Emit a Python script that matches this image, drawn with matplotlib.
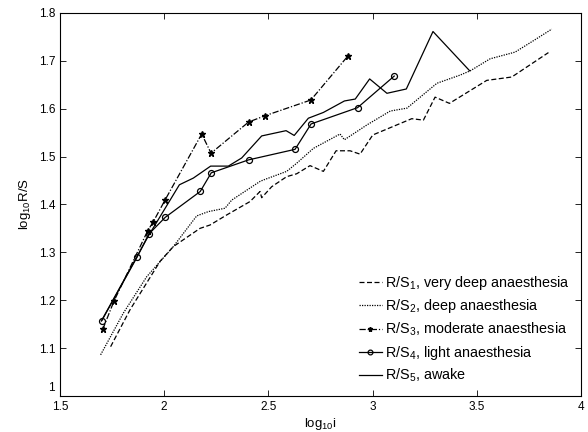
import matplotlib
matplotlib.use("Agg")
import matplotlib.pyplot as plt
import matplotlib.transforms as mtransforms

plt.rcParams['font.family'] = ['Liberation Sans', 'DejaVu Sans']
plt.rcParams['mathtext.default'] = 'regular'

# Series 1: very deep anaesthesia (dashed)
x1 = [1.743, 1.836, 1.980, 2.044, 2.172, 2.220, 2.300, 2.412, 2.460, 2.468, 2.516, 2.588,
      2.636, 2.700, 2.764, 2.825, 2.892, 2.940, 3.001, 3.188, 3.244, 3.300, 3.369, 3.548,
      3.668, 3.844]
y1 = [1.103, 1.180, 1.281, 1.312, 1.350, 1.357, 1.378, 1.406, 1.427, 1.414, 1.437, 1.458,
      1.464, 1.481, 1.469, 1.512, 1.512, 1.505, 1.545, 1.579, 1.576, 1.624, 1.611, 1.659,
      1.666, 1.717]

# Series 2: deep anaesthesia (dotted)
x2 = [1.695, 1.804, 1.916, 2.044, 2.156, 2.212, 2.292, 2.324, 2.460, 2.476, 2.588, 2.636,
      2.716, 2.844, 2.865, 2.973, 3.085, 3.165, 3.309, 3.420, 3.469, 3.564, 3.684, 3.780,
      3.860]
y2 = [1.086, 1.173, 1.249, 1.312, 1.376, 1.385, 1.392, 1.409, 1.448, 1.451, 1.469, 1.486,
      1.517, 1.547, 1.535, 1.566, 1.595, 1.601, 1.653, 1.670, 1.679, 1.704, 1.718, 1.744,
      1.766]

# Series 3: moderate anaesthesia (dash-dot, stars)
x3 = [1.705, 1.759, 1.921, 1.948, 2.004, 2.180, 2.225, 2.405, 2.483, 2.704, 2.880]
y3 = [1.139, 1.198, 1.345, 1.364, 1.409, 1.547, 1.507, 1.572, 1.585, 1.618, 1.709]

# Series 4: light anaesthesia (solid, circles)
x4 = [1.700, 1.870, 1.926, 2.005, 2.173, 2.226, 2.405, 2.628, 2.705, 2.928, 3.104]
y4 = [1.157, 1.290, 1.338, 1.373, 1.427, 1.466, 1.493, 1.515, 1.568, 1.602, 1.668]

# Series 5: awake (solid)
x5 = [1.699, 1.924, 2.073, 2.140, 2.223, 2.308, 2.372, 2.468, 2.585, 2.624, 2.692, 2.764,
      2.865, 2.917, 2.986, 3.069, 3.162, 3.290, 3.466]
y5 = [1.157, 1.334, 1.441, 1.455, 1.480, 1.480, 1.497, 1.543, 1.554, 1.544, 1.580, 1.592,
      1.616, 1.620, 1.662, 1.632, 1.641, 1.761, 1.679]

labels = ['R/S$_1$, very deep anaesthesia', 'R/S$_2$, deep anaesthesia',
          'R/S$_3$, moderate anaesthesia', 'R/S$_4$, light anaesthesia',
          'R/S$_5$, awake']
xticks = [1.5, 2, 2.5, 3, 3.5, 4]
xticklabels = ['1.5', '2', '2.5', '3', '3.5', '4']
yticks = [1.0, 1.1, 1.2, 1.3, 1.4, 1.5, 1.6, 1.7, 1.8]
yticklabels = ['1', '1.1', '1.2', '1.3', '1.4', '1.5', '1.6', '1.7', '1.8']

fig = plt.figure(figsize=(5.88, 4.32), dpi=100)
ax = fig.add_axes([0.102, 0.0833, 0.886, 0.887])

ax.plot(x1, y1, color='black', lw=0.9, linestyle=(0, (4, 2)), label=labels[0])
ax.plot(x2, y2, color='black', lw=0.9, linestyle=(0, (1, 1)), label=labels[1])
ax.plot(x3, y3, color='black', lw=0.9, linestyle=(0, (5, 1.5, 1, 1.5)), marker='*',
        markersize=4.5, label=labels[2])
ax.plot(x4, y4, color='black', lw=0.9, marker='o', markersize=4.3, markerfacecolor='none',
        markeredgewidth=0.9, label=labels[3])
ax.plot(x5, y5, color='black', lw=0.9, label=labels[4])

ax.set_xlim(1.5, 4)
ax.set_ylim(1.0, 1.8)
ax.set_xticks(xticks)
ax.set_xticklabels(xticklabels)
ax.set_yticks(yticks)
ax.set_yticklabels(yticklabels)
ax.tick_params(direction='in', length=4, width=0.6, labelsize=8.5, top=True, right=True)
for s in ax.spines.values():
    s.set_linewidth(0.8)

# MATLAB-style: lowest y label sits slightly above the corner
lab0 = ax.get_yticklabels()[0]
lab0.set_transform(lab0.get_transform() +
                   mtransforms.ScaledTranslation(0, 7 / 72, fig.dpi_scale_trans))

ax.set_xlabel('log$_{10}$i', fontsize=9.5, labelpad=2)
ax.set_ylabel('log$_{10}$R/S', fontsize=9.5, labelpad=4)

ax.legend(loc='lower right', frameon=False, fontsize=10.4, handlelength=1.6,
          handletextpad=0.2, labelspacing=0.38, borderaxespad=0.4, markerscale=0.8)

fig.savefig('out.png', dpi=100)
